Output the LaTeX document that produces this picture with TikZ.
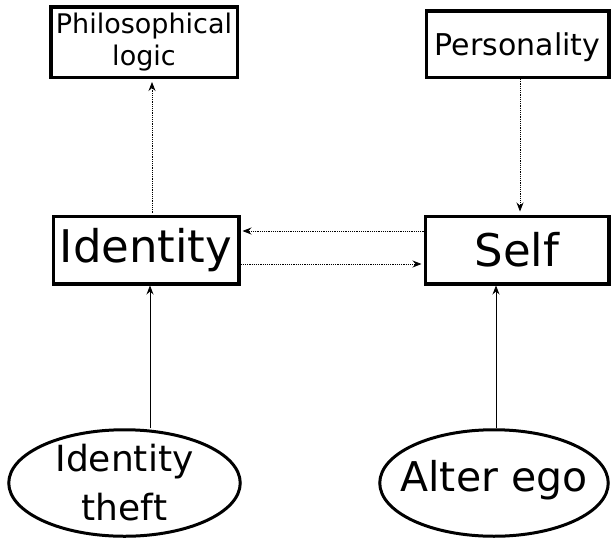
\documentclass[tikz,border=0pt]{standalone}
\usepackage{fontspec}
\setmainfont{DejaVu Sans}
\usetikzlibrary{arrows.meta,shapes.geometric}

\begin{document}
\begin{tikzpicture}[x=1pt,y=-1pt,
  box/.style={draw,line width=3.5pt,rectangle,inner sep=0pt,align=center},
  oval/.style={draw,line width=3pt,ellipse,inner sep=0pt},
  link/.style={line width=0.8pt,-{Stealth[length=9pt,width=7pt,inset=3pt]}},
  dotlink/.style={link,dash pattern=on 1.2pt off 1pt},
]
\useasboundingbox (0,0) rectangle (611,539);

% concept boxes
\node[box,minimum width=186.5pt,minimum height=70.5pt,
      font=\fontsize{27}{32}\selectfont] (phil) at (144,42) {Philosophical\\logic};
\node[box,minimum width=182.5pt,minimum height=66.5pt,text depth=0pt,
      font=\fontsize{30}{36}\selectfont] (pers) at (517.5,44) {Personality};
\node[box,minimum width=185.5pt,minimum height=67.5pt,
      font=\fontsize{45}{54}\selectfont] (ident) at (146,250) {Identity};
\node[box,minimum width=183.5pt,minimum height=67.5pt,
      font=\fontsize{45}{54}\selectfont] (self) at (517,250) {Self};

% ovals with their captions
\node[oval,minimum width=231.5pt,minimum height=106.5pt] (theft) at (124.5,483) {};
\node[align=center,inner sep=0pt,font=\fontsize{36}{49}\selectfont] (thefttext) at (theft) {Identity\\theft};
\node[oval,minimum width=228.5pt,minimum height=106.5pt] (alter) at (494,483) {};
\node[inner sep=0pt,font=\fontsize{41}{49}\selectfont] (altertext) at ([yshift=3pt]alter.center) {Alter ego};

% connectors
\draw[dotlink,shorten <=2pt,shorten >=3pt]
  ([xshift=6pt]ident.north) -- ([xshift=6pt]ident.north |- phil.south);
\draw[dotlink,shorten >=3pt]
  ([xshift=2.5pt]pers.south) -- ([xshift=2.5pt]pers.south |- self.north);
\draw[dotlink,shorten >=2pt]
  ([yshift=19pt]self.west) -- ([yshift=19pt]self.west -| ident.east);
\draw[dotlink,shorten >=2pt]
  ([yshift=-14pt]ident.east) -- ([yshift=-14pt]ident.east -| self.west);
\draw[link]
  ([xshift=25.5pt]theft.north) -- ([xshift=25.5pt]theft.north |- ident.south);
\draw[link]
  ([xshift=2pt]alter.north) -- ([xshift=2pt]alter.north |- self.south);
\end{tikzpicture}
\end{document}
